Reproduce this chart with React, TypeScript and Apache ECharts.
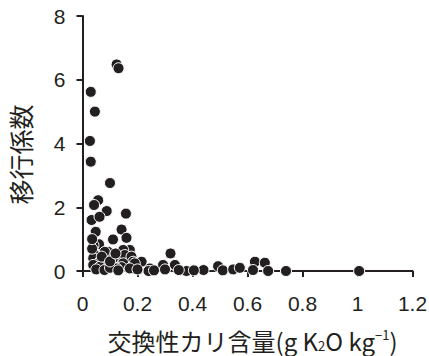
import React, { useEffect, useRef } from "react";
import * as echarts from "echarts";

const potassium: number[] = [
  0.124, 0.131, 0.03, 0.045, 0.027, 0.03, 0.1, 0.057, 0.042, 0.088, 0.158, 0.033, 0.062,
  0.048, 0.142, 0.16, 0.111, 0.06, 0.04, 0.172, 0.148, 0.093, 0.081, 0.32, 0.154, 0.045,
  0.178, 0.039, 0.117, 0.111, 0.215, 0.184, 0.063, 0.293, 0.336, 0.075, 0.093, 0.039,
  0.148, 0.19, 0.142, 0.063, 0.124, 0.172, 0.245, 0.24, 0.378, 0.44, 0.493, 0.51, 0.548,
  0.572, 0.627, 0.663, 0.62, 0.675, 0.74, 1.006, 0.05, 0.08, 0.1, 0.13, 0.2, 0.26, 0.3,
  0.35, 0.405, 0.07, 0.1, 0.035, 0.035, 0.12,
];
const transfer: number[] = [
  6.48, 6.36, 5.62, 5.0, 4.08, 3.43, 2.76, 2.22, 2.07, 1.88, 1.8, 1.6, 1.7,
  1.23, 1.3, 1.04, 0.99, 0.84, 0.8, 0.66, 0.66, 0.6, 0.6, 0.55, 0.5, 0.5,
  0.45, 0.4, 0.35, 0.4, 0.29, 0.29, 0.29, 0.19, 0.19, 0.19, 0.19, 0.19,
  0.24, 0.24, 0.12, 0.13, 0.08, 0.08, 0.08, 0.0, 0.0, 0.03, 0.15, 0.02, 0.05,
  0.1, 0.29, 0.26, 0.03, 0.0, 0.0, 0.0, 0.05, 0.03, 0.1, 0.02, 0.05, 0.02, 0.05,
  0.03, 0.02, 0.45, 0.3, 0.7, 1.0, 0.55,
];
const xTicks = { min: 0, max: 1.2, interval: 0.2 };
const yTicks = { min: 0, max: 8, interval: 2 };
const xName = "交換性カリ含量";
const yName = "移行係数";

const INK = "#231f20";
const LATIN = "'Liberation Sans', Arial, sans-serif";
const CJK = "'Noto Sans CJK JP', 'Liberation Sans', sans-serif";

export default function App() {
  const ref = useRef<HTMLDivElement>(null);
  useEffect(() => {
    if (!ref.current) return;
    const chart = echarts.init(ref.current, null, { renderer: "svg" });
    const data = potassium.map((x, i) => [x, transfer[i]]);
    chart.setOption({
      animation: false,
      grid: {
        left: 82.5,
        right: 16.5,
        top: 16,
        bottom: 85,
        containLabel: false,
        outerBoundsMode: "none",
      },
      xAxis: {
        type: "value",
        min: xTicks.min,
        max: xTicks.max,
        interval: xTicks.interval,
        name: `{a|${xName}(g K}{s|2}{a|O kg}{p|−1}{a|)}`,
        nameLocation: "middle",
        nameGap: 57,
        nameTextStyle: {
          padding: [0, 0, 0, 10],
          lineHeight: 24,
          rich: {
            a: { fontFamily: CJK, fontSize: 24, color: INK, lineHeight: 24 },
            s: { fontFamily: CJK, fontSize: 13, color: INK, verticalAlign: "bottom", lineHeight: 13 },
            p: { fontFamily: CJK, fontSize: 13, color: INK, verticalAlign: "top", lineHeight: 13 },
          },
        },
        axisLine: { show: true, lineStyle: { color: INK, width: 2 } },
        axisTick: { show: true, length: 6, lineStyle: { color: INK, width: 2 } },
        axisLabel: { color: INK, fontFamily: LATIN, fontSize: 21, margin: 22 },
        splitLine: { show: false },
      },
      yAxis: {
        type: "value",
        min: yTicks.min,
        max: yTicks.max,
        interval: yTicks.interval,
        name: yName,
        nameLocation: "middle",
        nameGap: 50,
        nameTextStyle: { fontFamily: CJK, fontSize: 25, color: INK, padding: [0, 22, 0, 0] },
        axisLine: { show: true, lineStyle: { color: INK, width: 2 } },
        axisTick: { show: true, length: 6, lineStyle: { color: INK, width: 2 } },
        axisLabel: { color: INK, fontFamily: LATIN, fontSize: 21, margin: 17 },
        splitLine: { show: false },
      },
      series: [
        {
          type: "scatter",
          data,
          symbol: "circle",
          symbolSize: 11,
          itemStyle: { color: INK, borderColor: "#ffffff", borderWidth: 1, opacity: 1 },
        },
      ],
    });
    return () => chart.dispose();
  }, []);
  return (
    <div
      ref={ref}
      style={{ position: "fixed", left: 0, top: 0, width: 429, height: 356, background: "#fff" }}
    />
  );
}
